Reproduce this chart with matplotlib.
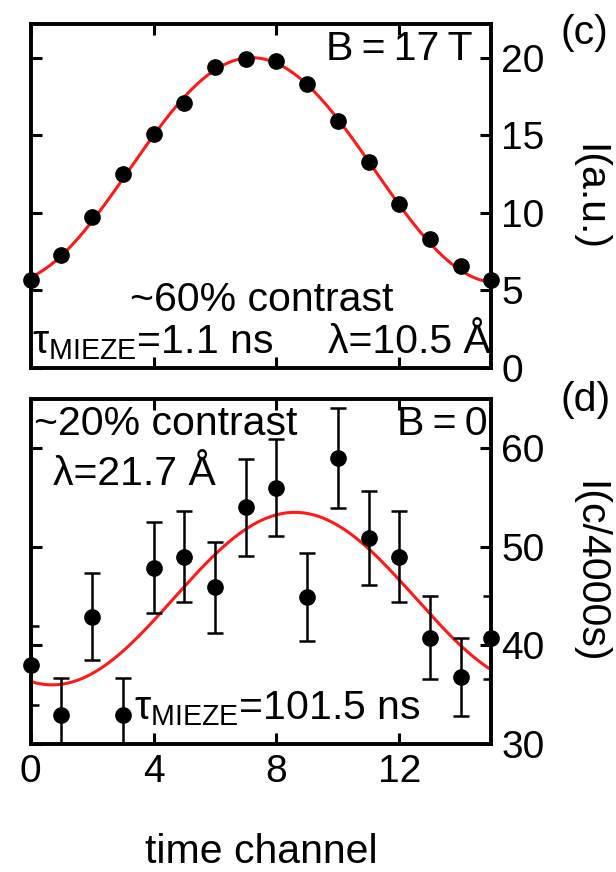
import numpy as np
import matplotlib
matplotlib.use("Agg")
import matplotlib.pyplot as plt

plt.rcParams['font.family'] = ['Liberation Sans', 'DejaVu Sans']
plt.rcParams['mathtext.fontset'] = 'custom'
plt.rcParams['mathtext.rm'] = 'Liberation Sans'
plt.rcParams['mathtext.it'] = 'Liberation Sans'
plt.rcParams['mathtext.bf'] = 'Liberation Sans:bold'

# ---- data ----
channels = list(range(16))

# (c) B = 17 T
top_intensity = [5.7, 7.3, 9.7, 12.5, 15.1, 17.1, 19.4, 19.9,
                 19.8, 18.3, 15.9, 13.3, 10.6, 8.3, 6.6, 5.7]
top_fit = dict(mean=12.75, amp=7.25, center=7.2, period=16.0)

# (d) B = 0
bot_counts = [38.0, 32.9, 42.9, 32.9, 47.9, 49.0, 45.9, 54.0,
              56.0, 44.9, 59.0, 50.9, 49.0, 40.8, 36.8, 40.8]
bot_err = [4.0, 3.8, 4.4, 3.8, 4.6, 4.6, 4.6, 4.9,
           4.9, 4.5, 5.1, 4.8, 4.6, 4.2, 4.0, 4.2]
bot_fit = dict(mean=44.75, amp=8.75, center=8.6, period=15.8)

x_ticks = [0, 4, 8, 12]
top_yticks = [0, 5, 10, 15, 20]
bot_yticks = [30, 40, 50, 60]

FS = 29.5
TFS = 28
RED = '#ff1a1a'


def fit_curve(p, xs):
    return p['mean'] + p['amp'] * np.cos(2 * np.pi * (xs - p['center']) / p['period'])


fig = plt.figure(figsize=(6.16, 8.72), dpi=100)
ax1 = fig.add_axes([0.0498, 0.578, 0.748, 0.395])
ax2 = fig.add_axes([0.0498, 0.1468, 0.748, 0.3956])

xs = np.linspace(0, 15, 400)

for ax in (ax1, ax2):
    ax.set_xlim(0, 15)
    ax.set_xticks(x_ticks)
    for s in ax.spines.values():
        s.set_linewidth(2.8)
    ax.tick_params(direction='in', top=True, bottom=True, left=True, right=True,
                   labelleft=False, labelright=True, length=8, width=2.2,
                   labelsize=TFS, pad=7)

# top panel
ax1.set_ylim(0, 22.2)
ax1.set_yticks(top_yticks)
ax1.tick_params(labelbottom=False)
ax1.plot(xs, fit_curve(top_fit, xs), color=RED, lw=2.2, zorder=2)
ax1.plot(channels, top_intensity, 'o', color='black', ms=11, clip_on=False, zorder=3)

ax1.text(0.959, 0.894, 'B\u2009=\u200917\u2009T', transform=ax1.transAxes,
         ha='right', va='baseline', fontsize=FS)
ax1.text(0.502, 0.165, '~60% contrast', transform=ax1.transAxes,
         ha='center', va='baseline', fontsize=FS)
ax1.text(0.003, 0.0435, r'$\tau_{\mathrm{MIEZE}}$=1.1 ns', transform=ax1.transAxes,
         ha='left', va='baseline', fontsize=FS)
ax1.text(0.998, 0.0435, '\u03bb=10.5 \u00c5', transform=ax1.transAxes,
         ha='right', va='baseline', fontsize=FS)

# bottom panel
ax2.set_ylim(30, 65)
ax2.set_yticks(bot_yticks)
ax2.plot(xs, fit_curve(bot_fit, xs), color=RED, lw=2.2, zorder=2)
ax2.errorbar(channels, bot_counts, yerr=bot_err, fmt='none', ecolor='black',
             elinewidth=1.8, capsize=6, capthick=1.8, zorder=3)
ax2.plot(channels, bot_counts, 'o', color='black', ms=11, clip_on=False, zorder=4)

ax2.text(0.007, 0.896, '~20% contrast', transform=ax2.transAxes,
         ha='left', va='baseline', fontsize=FS)
ax2.text(0.992, 0.896, 'B\u2009=\u20090', transform=ax2.transAxes,
         ha='right', va='baseline', fontsize=FS)
ax2.text(0.048, 0.751, '\u03bb=21.7 \u00c5', transform=ax2.transAxes,
         ha='left', va='baseline', fontsize=FS)
ax2.text(0.224, 0.07, r'$\tau_{\mathrm{MIEZE}}$=101.5 ns', transform=ax2.transAxes,
         ha='left', va='baseline', fontsize=FS)

# labels
fig.text(0.948, 0.962, '(c)', ha='center', va='center', fontsize=FS)
fig.text(0.950, 0.541, '(d)', ha='center', va='center', fontsize=FS)
fig.text(0.956, 0.773, 'I(a.u.)', ha='center', va='center', rotation=270, fontsize=FS)
fig.text(0.956, 0.344, 'I(c/4000s)', ha='center', va='center', rotation=270, fontsize=FS)
fig.text(0.425, 0.023, 'time channel', ha='center', va='center', fontsize=FS)

fig.savefig('out.png', dpi=100)
